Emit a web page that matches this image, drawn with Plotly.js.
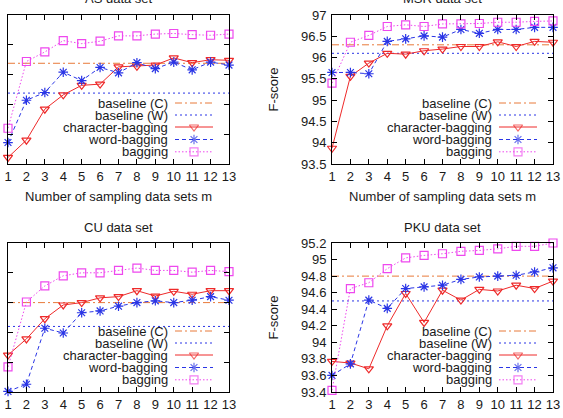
<!DOCTYPE html>
<html>
<head>
<meta charset="utf-8">
<script src="https://cdn.plot.ly/plotly-3.0.1.min.js"></script>
<style>
  html, body { margin: 0; padding: 0; background: #ffffff; }
  #chart { width: 563px; height: 418px; }
</style>
</head>
<body>
<div id="chart"></div>
<script>
// Number of sampling data sets
const m = [1, 2, 3, 4, 5, 6, 7, 8, 9, 10, 11, 12, 13];

// AS data set (F-score)
const asBaselineC = 96.19;
const asBaselineW = 95.69;
const asChar = [94.61, 94.90, 95.42, 95.66, 95.82, 95.84, 96.13, 96.14, 96.16, 96.28, 96.20, 96.25, 96.24];
const asWord = [94.86, 95.57, 95.70, 96.04, 95.90, 96.12, 96.03, 96.20, 96.10, 96.21, 96.08, 96.21, 96.16];
const asBag  = [95.10, 96.22, 96.38, 96.57, 96.52, 96.56, 96.65, 96.65, 96.68, 96.69, 96.67, 96.66, 96.68];

// MSR data set
const msrBaselineC = 96.30;
const msrBaselineW = 96.10;
const msrChar = [93.87, 95.56, 95.87, 96.10, 96.08, 96.16, 96.20, 96.26, 96.26, 96.37, 96.26, 96.38, 96.36];
const msrWord = [95.65, 95.65, 95.62, 96.38, 96.44, 96.51, 96.48, 96.66, 96.57, 96.66, 96.66, 96.71, 96.71];
const msrBag  = [95.40, 96.36, 96.52, 96.73, 96.77, 96.73, 96.79, 96.79, 96.80, 96.83, 96.83, 96.85, 96.86];

// CU data set
const cuBaselineC = 94.50;
const cuBaselineW = 94.10;
const cuChar = [93.62, 93.89, 94.23, 94.46, 94.50, 94.58, 94.60, 94.70, 94.61, 94.69, 94.64, 94.70, 94.70];
const cuWord = [93.01, 93.13, 94.07, 93.99, 94.33, 94.36, 94.44, 94.50, 94.53, 94.50, 94.54, 94.60, 94.54];
const cuBag  = [93.42, 94.51, 94.78, 94.95, 95.00, 95.00, 95.04, 95.08, 95.04, 95.04, 95.01, 95.04, 95.02];

// PKU data set
const pkuBaselineC = 94.80;
const pkuBaselineW = 94.50;
const pkuChar = [93.77, 93.75, 93.68, 94.20, 94.59, 94.24, 94.63, 94.51, 94.64, 94.62, 94.69, 94.65, 94.74];
const pkuWord = [93.60, 93.74, 94.51, 94.41, 94.65, 94.67, 94.69, 94.76, 94.79, 94.80, 94.81, 94.85, 94.90];
const pkuBag  = [93.42, 94.65, 94.72, 94.89, 95.02, 95.05, 95.07, 95.10, 95.11, 95.13, 95.16, 95.16, 95.20];

const seriesNames = ['baseline (C)', 'baseline (W)', 'character-bagging', 'word-bagging', 'bagging'];
const panelTitles = ['AS data set', 'MSR data set', 'CU data set', 'PKU data set'];
const xTitle = 'Number of sampling data sets m';
const yTitle = 'F-score';

// ---- styling ----
const W = 563, H = 418;
const FONT = 'Liberation Sans, Arial, Helvetica, sans-serif';
const TEXT = '#1a1a1a';
const styles = [
  { color: '#e87a3a', dash: '7px,3px,2px,3px', symbol: null },
  { color: '#2a35e6', dash: '2px,3px', symbol: null },
  { color: '#ee2a2a', dash: 'solid', symbol: 'triangle-down-open' },
  { color: '#2a35e6', dash: '4px,3px', symbol: 'asterisk-open' },
  { color: '#ee48ee', dash: '1.5px,2px', symbol: 'square-open' }
];

// plot boxes in pixels: [left, right, top, bottom]
const boxes = [
  [8, 229, 15, 164],
  [332, 553, 15, 164],
  [8, 229, 243, 392],
  [332, 553, 243, 392]
];

const panels = [
  { title: panelTitles[0], base: [asBaselineC, asBaselineW], series: [asChar, asWord, asBag],
    range: [94.5, 97.0], dtick: 0.5, yLabels: false, xTitle: true, yTitle: false },
  { title: panelTitles[1], base: [msrBaselineC, msrBaselineW], series: [msrChar, msrWord, msrBag],
    range: [93.5, 97.0], dtick: 0.5, yLabels: true, xTitle: true, yTitle: true },
  { title: panelTitles[2], base: [cuBaselineC, cuBaselineW], series: [cuChar, cuWord, cuBag],
    range: [93.0, 95.5], dtick: 0.5, yLabels: false, xTitle: false, yTitle: false },
  { title: panelTitles[3], base: [pkuBaselineC, pkuBaselineW], series: [pkuChar, pkuWord, pkuBag],
    range: [93.4, 95.2], dtick: 0.2, yLabels: true, xTitle: false, yTitle: true }
];

const traces = [];
const layout = {
  width: W, height: H,
  margin: { l: 0, r: 0, t: 0, b: 0 },
  paper_bgcolor: '#ffffff', plot_bgcolor: '#ffffff',
  showlegend: false,
  font: { family: FONT, size: 13, color: TEXT },
  annotations: []
};

// key rows, measured up from the plot bottom (px)
const keyRows = [61, 49, 37, 24.5, 12.2];
const keyTextGap = 59, keyLineFrom = 54, keyLineTo = 16;

panels.forEach((p, i) => {
  const [l, r, t, b] = boxes[i];
  const dx = [l / W, r / W];
  const dy = [(H - b) / H, (H - t) / H];
  const n = i + 1;
  const xs = n === 1 ? '' : String(n);
  const xa = 'xaxis' + xs, ya = 'yaxis' + xs;
  const xr = 'x' + xs, yr = 'y' + xs;
  const pw = r - l, ph = b - t;

  const axisCommon = {
    showgrid: false, zeroline: false, showline: true, linecolor: '#000', linewidth: 1,
    mirror: 'allticks', ticks: 'inside', ticklen: 5, tickwidth: 1, tickcolor: '#000',
    tickfont: { family: FONT, size: 13, color: TEXT }
  };
  layout[xa] = Object.assign({}, axisCommon, {
    domain: dx, anchor: yr, range: [1, 13], tickmode: 'array', tickvals: m, ticktext: m.map(String),
    ticklabelstandoff: 0
  });
  layout[ya] = Object.assign({}, axisCommon, {
    domain: dy, anchor: xr, range: p.range, dtick: p.dtick, tick0: p.range[0],
    showticklabels: p.yLabels, ticklabelstandoff: 2
  });

  // baselines across the whole x range
  p.base.forEach((v, k) => {
    traces.push({
      x: [m[0], m[m.length - 1]], y: [v, v], xaxis: xr, yaxis: yr,
      mode: 'lines', name: seriesNames[k], hoverinfo: 'skip',
      line: { color: styles[k].color, width: 1, dash: styles[k].dash }
    });
  });
  // bagging curves
  p.series.forEach((ys, k) => {
    const s = styles[k + 2];
    traces.push({
      x: m, y: ys, xaxis: xr, yaxis: yr, mode: 'lines+markers', name: seriesNames[k + 2],
      cliponaxis: false,
      line: { color: s.color, width: 1, dash: s.dash },
      marker: { symbol: s.symbol, size: 8, color: s.color, line: { color: s.color, width: 1.2 } }
    });
  });

  // key drawn in an overlay frame measured in pixels
  const ko = String(n + 4);
  layout['xaxis' + ko] = { overlaying: xr, anchor: 'y' + ko, range: [0, pw], visible: false, fixedrange: true };
  layout['yaxis' + ko] = { overlaying: yr, anchor: 'x' + ko, range: [0, ph], visible: false, fixedrange: true };
  seriesNames.forEach((name, k) => {
    const s = styles[k];
    const yk = keyRows[k];
    const mk = s.symbol
      ? { symbol: s.symbol, size: [0, 8, 0], color: s.color, line: { color: s.color, width: 1.2 } }
      : { size: 0 };
    traces.push({
      x: [pw - keyLineFrom, pw - (keyLineFrom + keyLineTo) / 2, pw - keyLineTo], y: [yk, yk, yk],
      xaxis: 'x' + ko, yaxis: 'y' + ko, mode: s.symbol ? 'lines+markers' : 'lines',
      hoverinfo: 'skip', cliponaxis: false,
      line: { color: s.color, width: 1, dash: s.dash }, marker: mk
    });
    layout.annotations.push({
      xref: 'x' + ko, yref: 'y' + ko, x: pw - keyTextGap, y: yk, xanchor: 'right', yanchor: 'middle',
      text: name, showarrow: false, font: { family: FONT, size: 13, color: TEXT }
    });
  });

  // panel title
  layout.annotations.push({
    xref: 'paper', yref: 'paper', x: (l + r) / 2 / W, y: (H - (t - 16)) / H,
    xanchor: 'center', yanchor: 'middle', text: p.title, showarrow: false,
    font: { family: FONT, size: 13, color: TEXT }
  });
  if (p.xTitle) {
    layout.annotations.push({
      xref: 'paper', yref: 'paper', x: (l + r) / 2 / W, y: (H - (b + 33)) / H,
      xanchor: 'center', yanchor: 'middle', text: xTitle, showarrow: false,
      font: { family: FONT, size: 13, color: TEXT }
    });
  }
  if (p.yTitle) {
    layout.annotations.push({
      xref: 'paper', yref: 'paper', x: (l - 59) / W, y: (H - (t + b) / 2) / H,
      xanchor: 'center', yanchor: 'middle', text: yTitle, textangle: -90, showarrow: false,
      font: { family: FONT, size: 13, color: TEXT }
    });
  }
});

Plotly.newPlot('chart', traces, layout, { staticPlot: true, displayModeBar: false });
</script>
</body>
</html>
